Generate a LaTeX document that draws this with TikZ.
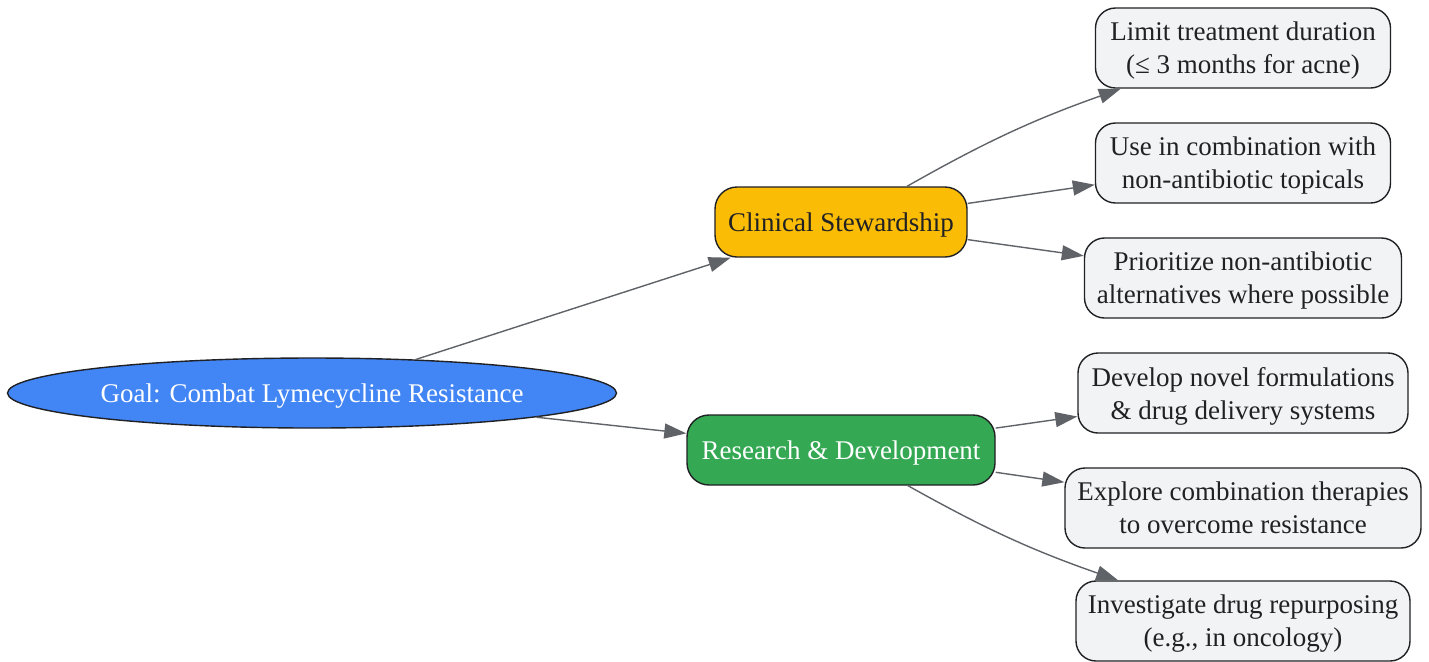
\documentclass[tikz,border=0pt]{standalone}
\usepackage{fontspec}
\setmainfont{Liberation Serif}
\usetikzlibrary{shapes.geometric,arrows.meta}
\definecolor{goalblue}{HTML}{4285F4}
\definecolor{stewyellow}{HTML}{FBBC05}
\definecolor{rdgreen}{HTML}{34A853}
\definecolor{leafgray}{HTML}{F1F3F4}
\definecolor{inkdark}{HTML}{202124}
\definecolor{edgegray}{HTML}{5F6368}
\tikzset{
  goalnode/.style={ellipse, draw=inkdark, fill=goalblue, text=white, line width=0.7pt,
    minimum width=304.5pt, minimum height=35pt, inner sep=0pt, text depth=0pt},
  branch/.style={rectangle, rounded corners=11pt, draw=inkdark, line width=0.7pt,
    minimum height=35pt, inner sep=0pt, text depth=0pt},
  leaf/.style={rectangle, rounded corners=10pt, draw=inkdark, fill=leafgray, text=inkdark,
    line width=0.7pt, minimum height=40pt, inner sep=0pt, align=center, text depth=0pt},
  edge/.style={draw=edgegray, line width=0.7pt, -{Triangle[length=11pt,width=7.5pt]}},
}

\begin{document}
\begin{tikzpicture}[x=0.5pt, y=-0.5pt, font=\fontsize{13.5}{16.5}\selectfont]
        \useasboundingbox (0,0) rectangle (1429,661);
        % goal
        \node[goalnode] (goal) at (312,393) {Goal: Combat Lymecycline Resistance};
        % branches
        \node[branch, fill=stewyellow, text=inkdark, minimum width=126pt] (stew) at (841,222) {Clinical Stewardship};
        \node[branch, fill=rdgreen, text=white, minimum width=154pt] (rnd) at (841,450) {Research \& Development};
        % stewardship leaves
        \node[leaf, minimum width=147.5pt] (limit) at (1243,48) {Limit treatment duration\\(≤ 3 months for acne)};
        \node[leaf, minimum width=147.5pt] (combo) at (1243,163) {Use in combination with\\non-antibiotic topicals};
        \node[leaf, minimum width=158.5pt] (alter) at (1243,278) {Prioritize non-antibiotic\\alternatives where possible};
        % research leaves
        \node[leaf, minimum width=165pt] (formul) at (1243,393) {Develop novel formulations\\\& drug delivery systems};
        \node[leaf, minimum width=178pt] (explore) at (1243,508) {Explore combination therapies\\to overcome resistance};
        \node[leaf, minimum width=167pt] (repurp) at (1243,621) {Investigate drug repurposing\\(e.g., in oncology)};
        % edges
        \draw[edge] (goal) -- (stew);
        \draw[edge] (goal) -- (rnd);
        \draw[edge] (stew) to[bend left=5] (limit);
        \draw[edge] (stew) -- (combo);
        \draw[edge] (stew) -- (alter);
        \draw[edge] (rnd) -- (formul);
        \draw[edge] (rnd) -- (explore);
        \draw[edge] (rnd) to[bend right=5] (repurp);
\end{tikzpicture}
\end{document}
